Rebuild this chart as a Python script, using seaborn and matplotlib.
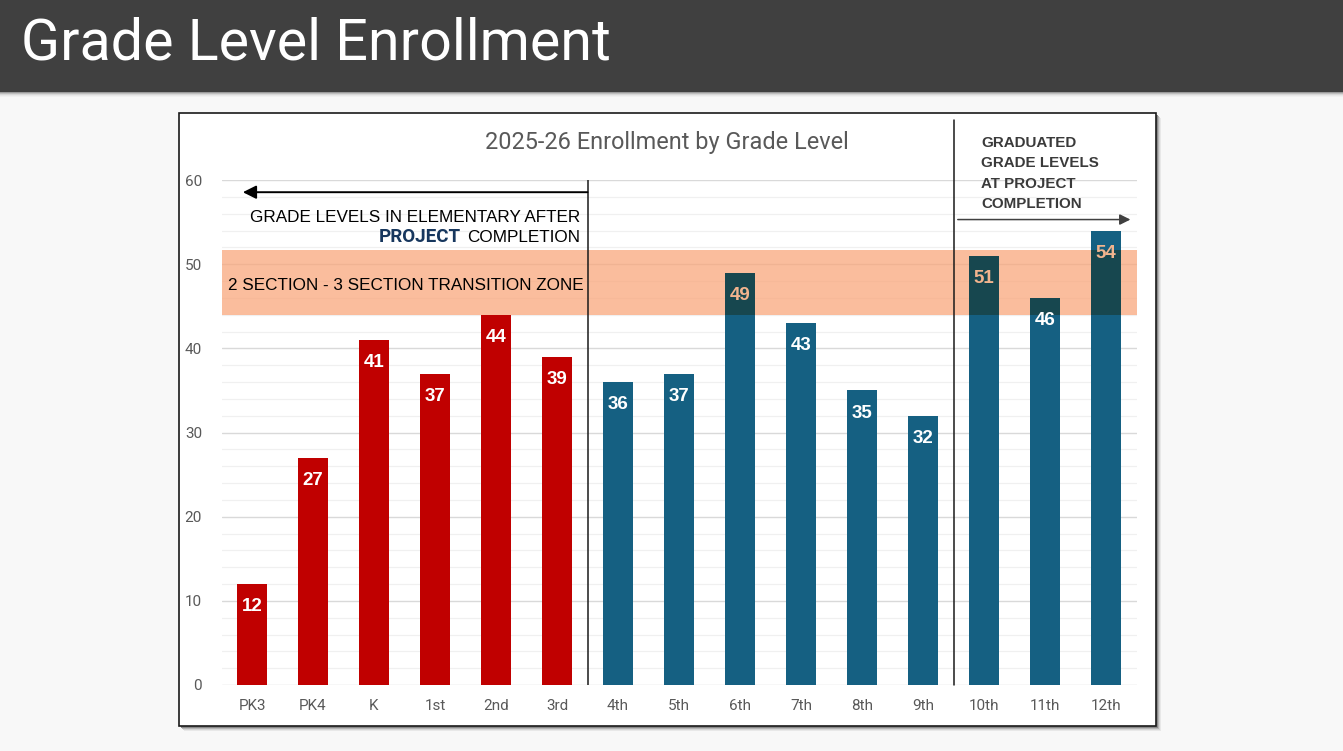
import matplotlib
matplotlib.use("Agg")
import matplotlib.pyplot as plt
from matplotlib.patches import Rectangle
import seaborn as sns
import pandas as pd

# ---- data ----
grades = ["PK3", "PK4", "K", "1st", "2nd", "3rd", "4th", "5th", "6th",
          "7th", "8th", "9th", "10th", "11th", "12th"]
enrollment = [12, 27, 41, 37, 44, 39, 36, 37, 49, 43, 35, 32, 51, 46, 54]
groups = ["Elementary"] * 6 + ["Secondary"] * 9
band_low, band_high = 44, 51.7
page_title = "Grade Level Enrollment"
chart_title = "2025-26 Enrollment by Grade Level"

df = pd.DataFrame({"grade": grades, "count": enrollment, "group": groups})

W, H = 1343, 751
sns.set_theme(style="white")
plt.rcParams["font.family"] = ["Roboto", "DejaVu Sans"]
ARIAL = ["Liberation Sans", "DejaVu Sans"]

fig = plt.figure(figsize=(W / 100, H / 100), dpi=100)
fig.patch.set_facecolor("#f8f8f8")

def fx(px):
    return px / W

def fy(py):
    return 1 - py / H

# title bar + shadow
for i, c in enumerate(["#9a9a9a", "#bdbdbd", "#d8d8d8", "#e8e8e8", "#f1f1f1"]):
    fig.patches.append(Rectangle((0, fy(93 + i)), 1, 1 / H, transform=fig.transFigure,
                                 facecolor=c, edgecolor="none", zorder=-3))
fig.patches.append(Rectangle((0, fy(92)), 1, 92 / H, transform=fig.transFigure,
                             facecolor="#404040", edgecolor="none", zorder=-2))
fig.text(fx(21), fy(44), page_title, color="white", fontsize=41.3, va="center",
         ha="left", family=["Roboto", "DejaVu Sans"])

# chart box with shadow
bx0, by0, bx1, by1 = 179, 113, 1156, 726
for i, c in enumerate(["#8a8a8a", "#b5b5b5", "#d5d5d5", "#e8e8e8"]):
    fig.patches.append(Rectangle((fx(bx0 + 2 + i), fy(by1 + 2 + i)), fx(bx1 - bx0), (by1 - by0) / H,
                                 transform=fig.transFigure, facecolor=c, edgecolor="none", zorder=-4 - i))
fig.patches.append(Rectangle((fx(bx0), fy(by1)), fx(bx1 - bx0), (by1 - by0) / H,
                             transform=fig.transFigure, facecolor="white",
                             edgecolor="#1a1a1a", linewidth=1.2, zorder=-1))

ax = fig.add_axes([fx(221.5), fy(685), fx(1136.5 - 221.5), (685 - 180) / H])
ax.set_facecolor("none")
ax.set_zorder(2)

# grid
ax.set_ylim(0, 60)
ax.set_yticks(range(0, 61, 10))
ax.set_yticks(range(0, 61, 2), minor=True)
ax.grid(axis="y", which="major", color="#d9d9d9", linewidth=1.0, zorder=0)
ax.grid(axis="y", which="minor", color="#f0f0f0", linewidth=0.9, zorder=0)
ax.set_axisbelow(True)

band = ax.axhspan(band_low, band_high, facecolor="#f9a77c", alpha=0.75,
                  edgecolor="none", zorder=1)

sns.barplot(data=df, x="grade", y="count", hue="group", order=grades,
            palette={"Elementary": "#c00000", "Secondary": "#156082"},
            dodge=False, width=0.5, legend=False, ax=ax, zorder=2,
            linewidth=0, saturation=1)

n_before = len(ax.patches)
sns.barplot(data=df, x="grade", y="count", order=grades, color="#17474f",
            width=0.5, ax=ax, zorder=3, linewidth=0, saturation=1)
for p in ax.patches[n_before:]:
    p.set_clip_path(band)

ax.set_xlim(-0.5, len(grades) - 0.5)
ax.set_ylim(0, 60)
ax.set_xlabel("")
ax.set_ylabel("")
for s in ax.spines.values():
    s.set_visible(False)
ax.tick_params(axis="both", which="both", length=0, colors="#595959", labelsize=11)
ax.tick_params(axis="y", pad=14)
ax.tick_params(axis="x", pad=10)

# value labels
for i, v in enumerate(enrollment):
    ly = v - 2.7
    col = "#f2b48e" if ly > band_low else "white"
    ax.text(i, ly, str(v), ha="center", va="center", color=col,
            fontsize=13.5, fontweight="bold", zorder=5, family=ARIAL)

# separators
ax.axvline(5.5, ymin=0, ymax=1.0, color="#1a1a1a", linewidth=1.1, zorder=4)
ax.axvline(11.5, ymin=0, ymax=(685 - 120) / (685 - 180), color="#1a1a1a",
           linewidth=1.1, zorder=4, clip_on=False)

# arrows
ax.annotate("", xy=(-0.15, 58.55), xytext=(5.5, 58.55),
            arrowprops=dict(arrowstyle="-|>", color="black", lw=1.4,
                            mutation_scale=20, shrinkA=0, shrinkB=0), zorder=5)
ax.annotate("", xy=(14.4, 55.3), xytext=(11.57, 55.3),
            arrowprops=dict(arrowstyle="-|>", color="#404040", lw=1.1,
                            mutation_scale=16, shrinkA=0, shrinkB=0),
            annotation_clip=False, zorder=5)

# annotations
ax.text(5.38, 55.6, "GRADE LEVELS IN ELEMENTARY AFTER", ha="right", va="center",
        fontsize=12.3, color="black", zorder=5, family=ARIAL)
comp = ax.text(5.38, 53.2, "COMPLETION", ha="right", va="center",
               fontsize=12.3, color="black", zorder=5, family=ARIAL)
ax.text(-0.39, 47.5, "2 SECTION - 3 SECTION TRANSITION ZONE", ha="left", va="center",
        fontsize=12.3, color="black", zorder=5, family=ARIAL)
for k, line in enumerate(["GRADUATED", "GRADE LEVELS", "AT PROJECT", "COMPLETION"]):
    ax.text(11.95, 64.4 - k * 2.42, line, ha="left", va="center", fontsize=10.9,
            fontweight="bold", color="#3a3a3a", zorder=5, clip_on=False, family=ARIAL)

fig.text(fx(667), fy(142), chart_title, ha="center", va="center",
         fontsize=16.9, color="#595959")

# place PROJECT just left of COMPLETION
fig.canvas.draw()
bb = comp.get_window_extent()
x_left = ax.transData.inverted().transform((bb.x0 - 6, bb.y0))[0]
ax.text(x_left, 53.2, "PROJECT", ha="right", va="center",
        fontsize=13.5, color="#17375e", fontweight="bold", zorder=5)

fig.savefig("out.png", dpi=100, facecolor=fig.get_facecolor())
